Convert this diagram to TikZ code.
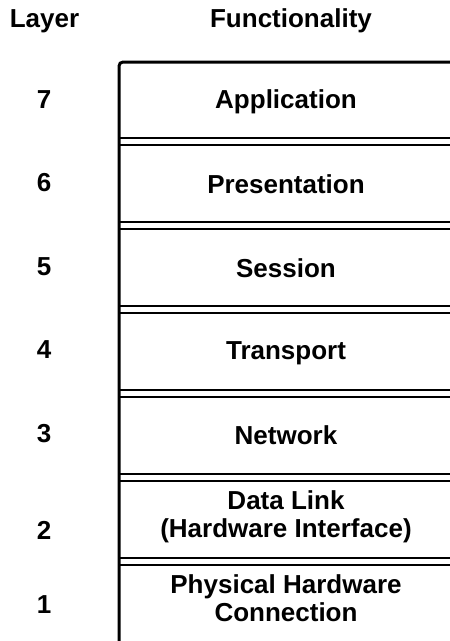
\documentclass[tikz,border=0pt]{standalone}
\usepackage{fontspec}
\setmainfont{Liberation Sans}
\usetikzlibrary{calc}
\tikzset{lbl/.style={font=\fontsize{26}{28}\selectfont\bfseries, inner sep=0, align=center}}

\begin{document}
\begin{tikzpicture}[x=1pt,y=-1pt]
\useasboundingbox (0,0) rectangle (450,641);
\node[lbl] (hlayer) at (44.5,21) {Layer};
\node[lbl] (hfunc) at (291,21) {Functionality};
\draw[black, line width=3pt, rounded corners=4pt] (119,650)--(119,62)--(455,62);
\foreach \y in {138,222,306,390,474,558} {
 \draw[black, line width=2.8pt] (119,\y)--(455,\y);
 \draw[black, line width=2.8pt] (119,\y+7)--(455,\y+7);
};
\foreach \n/\y in {7/100,6/183,5/267,4/350,3/434,2/530,1/605} {
 \node[lbl] (num\n) at (44,\y) {\n};
};
\foreach \n/\y/\t in {7/102/Application,6/184.5/Presentation,5/268.5/Session,4/353/Transport,3/435.5/Network,2/516.5/{Data Link\\(Hardware Interface)},1/598/{Physical Hardware\\Connection}} {
 \node[lbl] (fn\n) at (286,\y) {\t};
};
\end{tikzpicture}
\end{document}
